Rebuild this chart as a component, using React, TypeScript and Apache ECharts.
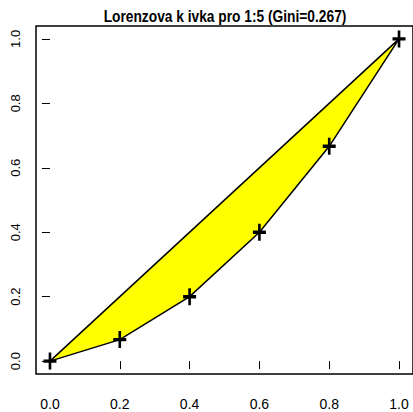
import React, { useEffect, useRef } from "react";
import * as echarts from "echarts";

const titleText = "Lorenzova k ivka pro 1:5 (Gini=0.267)";
const popShare = [0, 0.2, 0.4, 0.6, 0.8, 1.0];
const cumShare = [0, 0.0667, 0.2, 0.4, 0.6667, 1.0];
const tickValues = [0, 0.2, 0.4, 0.6, 0.8, 1.0];

const FONT = "'Liberation Sans', Arial, sans-serif";

export default function App() {
  const ref = useRef<HTMLDivElement>(null);
  useEffect(() => {
    if (!ref.current) return;
    const chart = echarts.init(ref.current, null, { renderer: "svg" });
    const points = popShare.map((x, i) => [x, cumShare[i]]);
    chart.setOption({
      animation: false,
      backgroundColor: "#ffffff",
      graphic: [
        {
          type: "text",
          x: 225,
          y: 16,
          scaleX: 0.81,
          style: {
            text: titleText,
            fontFamily: FONT,
            fontWeight: "bold",
            fontSize: 17,
            fill: "#000",
            textAlign: "center",
            textVerticalAlign: "middle",
          },
        },
      ],
      grid: { left: 36, top: 26, width: 380, height: 348, show: true, borderColor: "#000", borderWidth: 1.5, backgroundColor: "transparent" },
      xAxis: {
        type: "value",
        min: -0.04,
        max: 1.04,
        splitLine: { show: false },
        axisLine: { show: false },
        axisTick: { show: true, length: 8, customValues: tickValues, lineStyle: { color: "#000", width: 1 } },
        axisLabel: {
          customValues: tickValues,
          margin: 23,
          fontFamily: FONT,
          fontSize: 14,
          color: "#000",
          formatter: (v: number) => v.toFixed(1),
        },
      },
      yAxis: {
        type: "value",
        min: -0.04,
        max: 1.04,
        splitLine: { show: false },
        axisLine: { show: false },
        axisTick: { show: true, length: 8, customValues: tickValues, lineStyle: { color: "#000", width: 1 } },
        axisLabel: {
          customValues: tickValues,
          rotate: 90,
          align: "center",
          verticalAlign: "bottom",
          margin: 14,
          fontFamily: FONT,
          fontSize: 13,
          color: "#000",
          formatter: (v: number) => v.toFixed(1),
        },
      },
      series: [
        {
          type: "custom",
          data: points,
          renderItem: (params: any, api: any) => {
            if (params.dataIndex !== 0) return null;
            const pts = popShare.map((x, i) => api.coord([x, cumShare[i]]));
            return {
              type: "polygon",
              shape: { points: pts },
              style: { fill: "#ffff00", stroke: "#000", lineWidth: 1.5 },
            };
          },
          silent: true,
        },
        {
          type: "scatter",
          data: points,
          symbol: "path://M5,0 L5,10 M0,5 L10,5",
          symbolSize: [13, 17],
          itemStyle: { color: "transparent", borderColor: "#000", borderWidth: 3, opacity: 1 },
          silent: true,
        },
      ],
    });
    return () => chart.dispose();
  }, []);
  return <div ref={ref} style={{ position: "fixed", left: 0, top: 0, width: 413, height: 412 }} />;
}
